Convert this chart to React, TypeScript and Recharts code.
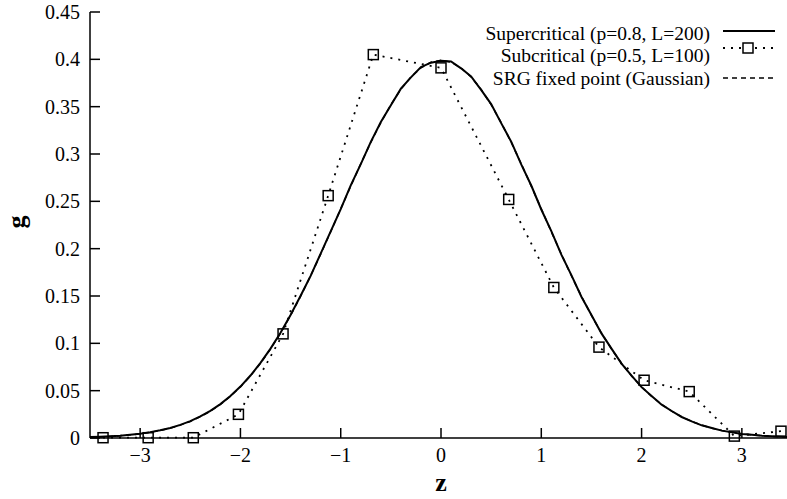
import React from 'react';
import { LineChart, Line, XAxis, YAxis } from 'recharts';

const zGrid = [
  -3.5, -3.4, -3.3, -3.2, -3.1, -3.0, -2.9, -2.8, -2.7, -2.6, -2.5, -2.4, -2.3, -2.2, -2.1, -2.0,
  -1.9, -1.8, -1.7, -1.6, -1.5, -1.4, -1.3, -1.2, -1.1, -1.0, -0.9, -0.8, -0.7, -0.6, -0.5, -0.4,
  -0.3, -0.2, -0.1, 0, 0.1, 0.2, 0.3, 0.4, 0.5, 0.6, 0.7, 0.8, 0.9, 1.0, 1.1, 1.2, 1.3, 1.4, 1.5,
  1.6, 1.7, 1.8, 1.9, 2.0, 2.1, 2.2, 2.3, 2.4, 2.5, 2.6, 2.7, 2.8, 2.9, 3.0, 3.1, 3.2, 3.3, 3.4, 3.45,
];

const superVals = [
  0.001, 0.0013, 0.0018, 0.0025, 0.0035, 0.0046, 0.0062, 0.0082, 0.0106, 0.0139, 0.0178, 0.0228,
  0.0287, 0.0358, 0.0444, 0.0543, 0.066, 0.0793, 0.0944, 0.1112, 0.13, 0.1502, 0.1712, 0.1948,
  0.2183, 0.2418, 0.2668, 0.2893, 0.3128, 0.3338, 0.3516, 0.369, 0.381, 0.3918, 0.3965, 0.3985,
  0.3978, 0.3905, 0.382, 0.3678, 0.3527, 0.3326, 0.313, 0.289, 0.2667, 0.2414, 0.2185, 0.1937,
  0.172, 0.1492, 0.13, 0.1105, 0.0944, 0.0786, 0.066, 0.0537, 0.0443, 0.0352, 0.0285, 0.0222,
  0.0176, 0.0134, 0.0105, 0.0078, 0.0061, 0.0043, 0.0034, 0.0023, 0.0018, 0.0012, 0.001,
];

const srgVals = [
  0.0009, 0.0012, 0.0017, 0.0024, 0.0033, 0.0044, 0.006, 0.0079, 0.0104, 0.0136, 0.0175, 0.0224,
  0.0283, 0.0355, 0.044, 0.054, 0.0656, 0.079, 0.094, 0.1109, 0.1295, 0.1497, 0.1714, 0.1942,
  0.2179, 0.242, 0.2661, 0.2897, 0.3123, 0.3332, 0.3521, 0.3683, 0.3814, 0.391, 0.397, 0.3989,
  0.397, 0.391, 0.3814, 0.3683, 0.3521, 0.3332, 0.3123, 0.2897, 0.2661, 0.242, 0.2179, 0.1942,
  0.1714, 0.1497, 0.1295, 0.1109, 0.094, 0.079, 0.0656, 0.054, 0.044, 0.0355, 0.0283, 0.0224,
  0.0175, 0.0136, 0.0104, 0.0079, 0.006, 0.0044, 0.0033, 0.0024, 0.0017, 0.0012, 0.001,
];

const subZ = [-3.37, -2.92, -2.47, -2.02, -1.575, -1.125, -0.675, 0, 0.675, 1.125, 1.575, 2.025, 2.475, 2.925, 3.39];
const subVals = [0.0003, 0.0003, 0.0003, 0.025, 0.11, 0.256, 0.405, 0.391, 0.252, 0.159, 0.096, 0.061, 0.049, 0.002, 0.0072];

const xTicks = [-3, -2, -1, 0, 1, 2, 3];
const yTicks = [0, 0.05, 0.1, 0.15, 0.2, 0.25, 0.3, 0.35, 0.4, 0.45];
const yTickLabels = ['0', '0.05', '0.1', '0.15', '0.2', '0.25', '0.3', '0.35', '0.4', '0.45'];

const legendLabels = [
  'Supercritical (p=0.8, L=200)',
  'Subcritical (p=0.5, L=100)',
  'SRG fixed point (Gaussian)',
];

const curveData = zGrid.map((z, i) => ({ z, sup: superVals[i], srg: srgVals[i] }));
const subData = subZ.map((z, i) => ({ z, sub: subVals[i] }));

const FONT = '"Liberation Serif", "Times New Roman", serif';

const SquareDot = (props: any) => {
  const { cx, cy, index } = props;
  if (cx == null || cy == null) return <g key={`e${index}`} />;
  return (
    <rect
      key={`d${index}`}
      x={cx - 5}
      y={cy - 5}
      width={10}
      height={10}
      fill="none"
      stroke="#000"
      strokeWidth={1.5}
    />
  );
};

const LegendOverlay = () => (
  <svg
    width={337}
    height={100}
    style={{ position: 'absolute', left: 450, top: 0, pointerEvents: 'none' }}
  >
    <g fontFamily={FONT} fontSize={19.5} fill="#000">
      <text x={260} y={40} textAnchor="end">{legendLabels[0]}</text>
      <text x={260} y={62} textAnchor="end">{legendLabels[1]}</text>
      <text x={260} y={85} textAnchor="end">{legendLabels[2]}</text>
    </g>
    <line x1={273} x2={325} y1={31} y2={31} stroke="#000" strokeWidth={1.8} />
    <line x1={273} x2={325} y1={48} y2={48} stroke="#000" strokeWidth={1.8} strokeDasharray="2 6" />
    <rect x={293} y={43} width={10} height={10} fill="#fff" stroke="#000" strokeWidth={1.5} />
    <line x1={273} x2={325} y1={78} y2={78} stroke="#000" strokeWidth={1.5} strokeDasharray="5 4" />
  </svg>
);

export default function App() {
  return (
    <div style={{ position: 'absolute', left: 0, top: 0, width: 787, height: 499, background: '#fff' }}>
      <LineChart width={787} height={499} margin={{ top: 12, right: 0, bottom: 0, left: 0 }}>
        <XAxis
          xAxisId="b"
          dataKey="z"
          type="number"
          domain={[-3.5, 3.45]}
          ticks={xTicks}
          allowDataOverflow
          height={61}
          tickSize={-10}
          tickMargin={20}
          tickFormatter={(v: number) => (v < 0 ? '\u2212' + Math.abs(v) : String(v))}
          tick={{ fontFamily: FONT, fontSize: 20, fill: '#000' }}
          axisLine={{ stroke: '#000', strokeWidth: 1.5 }}
          tickLine={{ stroke: '#000', strokeWidth: 1.5 }}
          label={{
            content: () => (
              <text x={441} y={491} textAnchor="middle" fontFamily={FONT} fontWeight="bold" fontSize={26} fill="#000">
                z
              </text>
            ),
          }}
        />
        <XAxis
          xAxisId="t"
          orientation="top"
          dataKey="z"
          type="number"
          domain={[-3.5, 3.45]}
          ticks={xTicks}
          allowDataOverflow
          height={0}
          tickSize={-10}
          tickFormatter={() => ''}
          axisLine={{ stroke: '#000', strokeWidth: 1.5 }}
          tickLine={{ stroke: '#000', strokeWidth: 1.5 }}
        />
        <YAxis
          yAxisId="l"
          type="number"
          domain={[0, 0.45]}
          ticks={yTicks}
          width={90}
          tickSize={-10}
          tickMargin={20}
          tickFormatter={(v: number) => yTickLabels[yTicks.indexOf(v)] ?? String(v)}
          tick={{ fontFamily: FONT, fontSize: 20, fill: '#000' }}
          axisLine={{ stroke: '#000', strokeWidth: 1.5 }}
          tickLine={{ stroke: '#000', strokeWidth: 1.5 }}
          label={{
            content: () => (
              <text
                transform="translate(25 222) rotate(-90)"
                x={0}
                y={0}
                textAnchor="middle"
                fontFamily={FONT}
                fontWeight="bold"
                fontSize={26}
                fill="#000"
              >
                g
              </text>
            ),
          }}
        />
        <Line
          xAxisId="b"
          yAxisId="l"
          data={curveData}
          dataKey="srg"
          type="linear"
          stroke="#000"
          strokeWidth={1.5}
          strokeDasharray="5 4"
          dot={false}
          isAnimationActive={false}
        />
        <Line
          xAxisId="b"
          yAxisId="l"
          data={curveData}
          dataKey="sup"
          type="linear"
          stroke="#000"
          strokeWidth={2}
          dot={false}
          isAnimationActive={false}
        />
        <Line
          xAxisId="b"
          yAxisId="l"
          data={subData}
          dataKey="sub"
          type="linear"
          stroke="#000"
          strokeWidth={1.8}
          strokeDasharray="2 6"
          dot={SquareDot}
          isAnimationActive={false}
        />
      </LineChart>
      <LegendOverlay />
    </div>
  );
}
